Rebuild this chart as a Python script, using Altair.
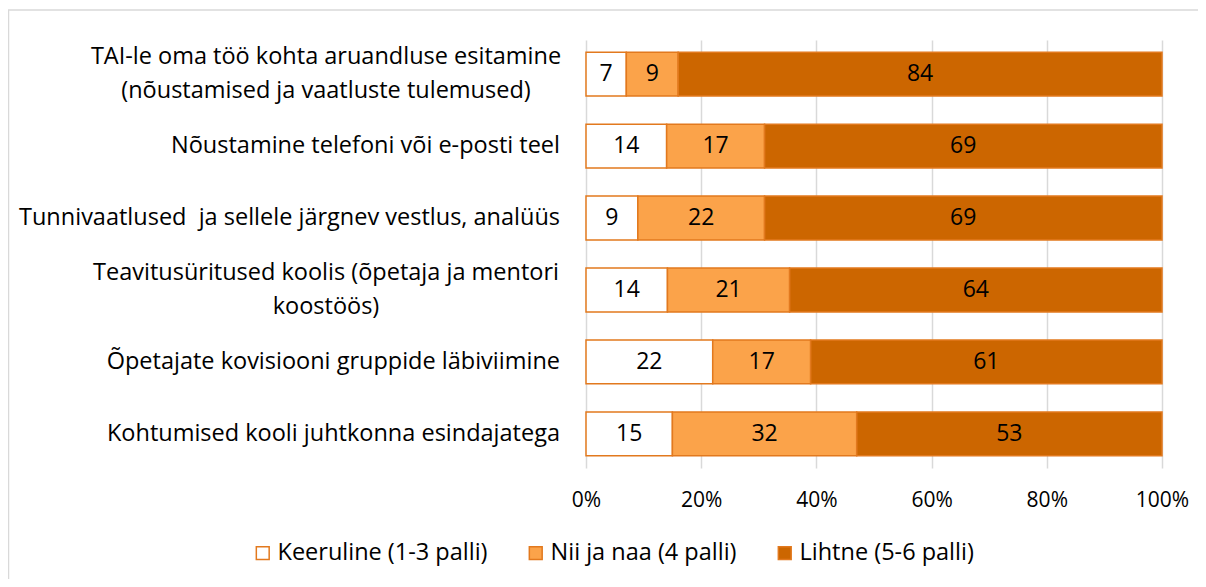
import altair as alt
import pandas as pd

categories = [
    "TAI-le oma töö kohta aruandluse esitamine\n(nõustamised ja vaatluste tulemused)",
    "Nõustamine telefoni või e-posti teel",
    "Tunnivaatlused \u00a0ja sellele järgnev vestlus, analüüs",
    "Teavitusüritused koolis (õpetaja ja mentori\nkoostöös)",
    "Õpetajate kovisiooni gruppide läbiviimine",
    "Kohtumised kooli juhtkonna esindajatega",
]
series = ["Keeruline (1-3 palli)", "Nii ja naa (4 palli)", "Lihtne (5-6 palli)"]
keeruline = [7, 14, 9, 14, 22, 15]
nii_ja_naa = [9, 17, 22, 21, 17, 32]
lihtne = [84, 69, 69, 64, 61, 53]
colors = ["#FFFFFF", "#FBA34A", "#CC6600"]
tick_values = [0, 0.2, 0.4, 0.6, 0.8, 1.0]

rows = []
for i, c in enumerate(categories):
    for j, (s, vals) in enumerate(zip(series, [keeruline, nii_ja_naa, lihtne])):
        rows.append({"cat": c, "series": s, "order": j, "value": vals[i]})
df = pd.DataFrame(rows)

FONT = "Open Sans"
FS = 23.5
EDGE = "#E2791E"

yenc = alt.Y("cat:N", axis=None,
             scale=alt.Scale(domain=categories, paddingInner=0.39, paddingOuter=0.17))

base = alt.Chart(df).transform_stack(
    stack="value", groupby=["cat"], as_=["x0", "x1"], offset="normalize",
    sort=[alt.SortField(field="order", order="ascending")]
).transform_calculate(mid="(datum.x0 + datum.x1) / 2")

bars = base.mark_bar(stroke=EDGE, strokeWidth=1.5).encode(
    x=alt.X("x0:Q", title=None, scale=alt.Scale(domain=[0, 1]),
            axis=alt.Axis(format="%", values=tick_values, grid=True, gridColor="#D9D9D9",
                          gridWidth=1.5, domain=False, ticks=False, labelFontSize=21,
                          labelFont=FONT, labelColor="#000000", labelPadding=21,
                          labelFlush=False)),
    x2="x1:Q",
    y=yenc,
    color=alt.Color("series:N", sort=series,
                    scale=alt.Scale(domain=series, range=colors),
                    legend=alt.Legend(orient="none", legendX=-335, legendY=501,
                                      direction="horizontal", title=None,
                                      symbolType="square", symbolSize=165,
                                      symbolStrokeColor=EDGE, symbolStrokeWidth=1.5,
                                      labelFontSize=FS, labelFont=FONT, labelColor="#000000",
                                      labelLimit=400, columnPadding=36, labelOffset=3)),
)

values_text = base.mark_text(fontSize=23, font=FONT, color="#000000").encode(
    x="mid:Q", y=yenc, text="value:Q"
)

single = pd.DataFrame({"cat": [c for c in categories if "\n" not in c]})
multi = pd.DataFrame({"cat": [c for c in categories if "\n" in c]})

labels_single = alt.Chart(single).mark_text(
    align="right", baseline="middle", fontSize=FS, font=FONT, color="#000000"
).encode(x=alt.value(-26), y=yenc, text="cat:N")

labels_multi = alt.Chart(multi).mark_text(
    align="center", baseline="middle", fontSize=FS, font=FONT, color="#000000",
    lineBreak="\n", lineHeight=34, dy=-17
).encode(x=alt.value(-260), y=yenc, text="cat:N")

frame = alt.Chart(pd.DataFrame({"a": [0]})).mark_rect(
    filled=False, stroke="#D9D9D9", strokeWidth=1.5
).encode(x=alt.value(-577.5), x2=alt.value(700), y=alt.value(-30), y2=alt.value(600))

chart = alt.layer(frame, bars, values_text, labels_single, labels_multi).properties(
    width=576, height=428,
    autosize=alt.AutoSizeParams(type="none"),
    padding={"left": 578, "top": 32, "right": 36, "bottom": 111},
).configure_view(stroke=None)

chart.save("out.html", embed_options={"renderer": "svg", "actions": False})
